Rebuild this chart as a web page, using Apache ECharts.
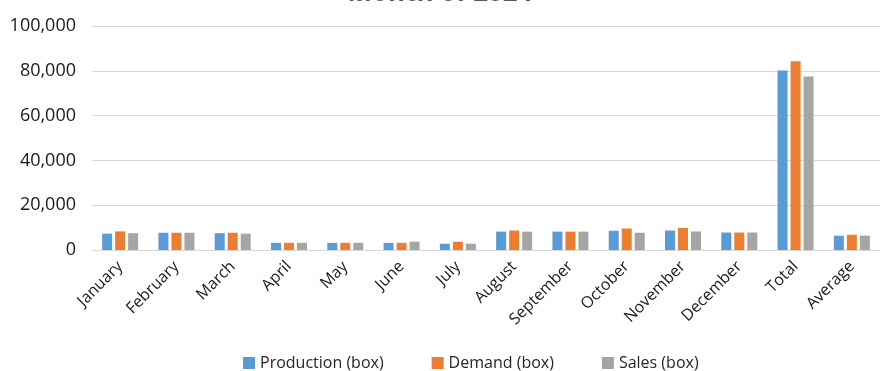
<!DOCTYPE html>
<html>
<head>
<meta charset="utf-8">
<script src="https://cdn.jsdelivr.net/npm/echarts@6/dist/echarts.min.js"></script>
<style>
  html, body { margin: 0; padding: 0; background: #fff; }
  #chart { width: 880px; height: 371px; }
</style>
</head>
<body>
<div id="chart"></div>
<script>
// months + summary columns
const categories = ['January', 'February', 'March', 'April', 'May', 'June', 'July',
  'August', 'September', 'October', 'November', 'December', 'Total', 'Average']
const production = [7300, 7700, 7500, 3200, 3200, 3200, 2800, 8200, 8200, 8600, 8700, 7800, 80100, 6400]
const demand = [8300, 7700, 7700, 3200, 3200, 3200, 3700, 8700, 8200, 9600, 9900, 7800, 84300, 6800]
const sales = [7500, 7700, 7300, 3200, 3200, 3700, 2800, 8200, 8200, 7700, 8300, 7800, 77500, 6400]
const yTicks = [0, 20000, 40000, 60000, 80000, 100000]

const font = '"Open Sans", "Liberation Sans", sans-serif'
const chart = echarts.init(document.getElementById('chart'))

const bar = (name, data, color) => ({
  name,
  type: 'bar',
  data,
  barWidth: 10,
  barGap: '30%',
  itemStyle: { color }
})

chart.setOption({
  animation: false,
  // title sits mostly above the visible area, as in the source image
  title: {
    text: 'Month of 2024',
    left: 'center',
    top: -24,
    textStyle: { fontFamily: font, fontSize: 26, fontWeight: 'bold', color: '#595959' }
  },
  legend: {
    bottom: -5,
    left: 238,
    itemWidth: 12,
    itemHeight: 12,
    itemGap: 48,
    icon: 'rect',
    textStyle: { fontFamily: font, fontSize: 16, color: '#262626' }
  },
  grid: { left: 92, right: -10, top: 26, bottom: 121 },
  xAxis: {
    type: 'category',
    data: categories,
    axisTick: { show: false },
    axisLine: { lineStyle: { color: '#d9d9d9' } },
    axisLabel: {
      rotate: 45,
      interval: 0,
      margin: 14,
      fontFamily: font,
      fontSize: 16,
      color: '#1a1a1a'
    }
  },
  yAxis: {
    type: 'value',
    min: yTicks[0],
    max: yTicks[yTicks.length - 1],
    interval: 20000,
    axisLabel: {
      margin: 16,
      fontFamily: font,
      fontSize: 18,
      color: '#1a1a1a',
      formatter: v => v.toLocaleString('en-US')
    },
    splitLine: { lineStyle: { color: '#d9d9d9' } }
  },
  series: [
    bar('Production (box)', production, '#5b9bd5'),
    bar('Demand (box)', demand, '#ed7d31'),
    bar('Sales (box)', sales, '#a5a5a5')
  ]
})
</script>
</body>
</html>
